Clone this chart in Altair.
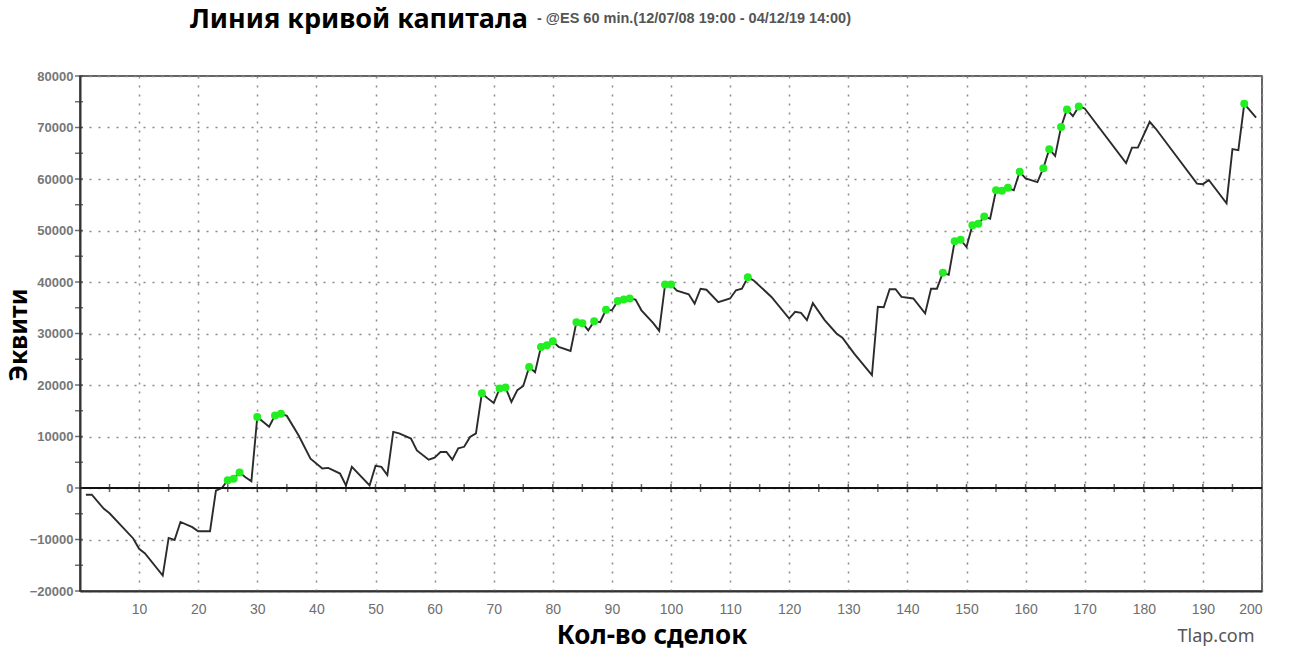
import altair as alt
import pandas as pd

# ---- data ----
trades = [1, 2, 4, 5, 9, 10, 11, 14, 15, 16, 17, 19, 20, 22, 23, 24, 25, 26, 27, 28,
          29, 30, 32, 33, 34, 35, 37, 39, 41, 42, 44, 45, 46, 49, 50, 51, 52, 53, 54, 56,
          57, 59, 60, 61, 62, 63, 64, 65, 66, 67, 68, 69, 70, 71, 72, 73, 74, 75, 76, 77,
          78, 79, 80, 81, 83, 84, 85, 86, 87, 88, 89, 90, 91, 92, 93, 94, 95, 97, 98, 99,
          100, 101, 103, 104, 105, 106, 108, 110, 111, 112, 113, 114, 117, 120, 121, 122, 123, 124, 126, 128,
          129, 131, 134, 135, 136, 137, 138, 139, 141, 143, 144, 145, 146, 147, 148, 149, 150, 151, 152, 153,
          154, 155, 156, 157, 158, 159, 160, 162, 163, 164, 165, 166, 167, 168, 169, 170, 177, 178, 179, 181,
          182, 189, 190, 191, 194, 195, 196, 197, 199]
equity = [-1300, -1300, -4000, -4900, -9800, -11800, -12700, -17000, -9700, -10100, -6600, -7600, -8400, -8400, -500, 0, 1500, 1800, 3000, 2100,
          1300, 13800, 11900, 14100, 14400, 14000, 10200, 5700, 3800, 3900, 2800, 500, 4100, 500, 4300, 4100, 2500, 10900, 10600, 9600,
          7300, 5500, 5900, 7000, 7000, 5500, 7700, 8000, 9900, 10600, 18400, 17400, 16500, 19300, 19500, 16700, 19000, 19800, 23500, 22500,
          27400, 27700, 28500, 27400, 26600, 32200, 32000, 30600, 32400, 32200, 34600, 34500, 36300, 36600, 36800, 36600, 34500, 32000, 30500, 39500,
          39500, 38300, 37600, 35800, 38700, 38500, 36100, 36800, 38400, 38700, 40900, 40300, 37100, 32900, 34200, 34000, 32600, 35900, 32600, 30000,
          29200, 26100, 21900, 35200, 35100, 38600, 38600, 37100, 36800, 33900, 38700, 38700, 41800, 41400, 47900, 48200, 46800, 51000, 51300, 52700,
          52300, 57800, 57700, 58300, 57800, 61400, 60100, 59400, 62100, 65800, 64500, 70100, 73500, 72200, 74100, 73700, 63100, 66100, 66100, 71100,
          69800, 59100, 59000, 59800, 55300, 65800, 65600, 74600, 71900]
new_highs = [25, 26, 27, 30, 33, 34, 68, 71, 72, 76, 78, 79, 80, 84, 85, 87, 89, 91, 92, 93,
             99, 100, 113, 146, 148, 149, 151, 152, 153, 155, 156, 157, 159, 163, 164, 166, 167, 169, 197]

x_ticks = list(range(10, 201, 10))
y_ticks = list(range(-20000, 80001, 10000))
y_minor = list(range(-20000, 80001, 5000))
zero_ticks = list(range(5, 200, 5))

title_main = "Линия кривой капитала"
title_sub = "- @ES 60 min.(12/07/08 19:00 - 04/12/19 14:00)"
x_title = "Кол-во сделок"
y_title = "Эквити"
watermark = "Tlap.com"

W, H = 1182, 515

df = pd.DataFrame({"trade": trades, "equity": equity})
hi = df[df["trade"].isin(new_highs)]

xs = alt.Scale(domain=[0, 200], nice=False, zero=False)
ys = alt.Scale(domain=[-20000, 80000], nice=False, zero=False)

xax = alt.Axis(values=x_ticks, grid=True, gridDash=[2, 7], gridColor="#8a8a8a", gridWidth=1.5,
               ticks=False, domainColor="#333333", domainWidth=2, labelFont="Liberation Sans",
               labelFontSize=14, labelColor="#6e6e6e", labelPadding=11, labelFlush=True, title=None)
yax = alt.Axis(values=y_ticks, format="d", grid=True, gridDash=[2, 7], gridColor="#8a8a8a", gridWidth=1.5,
               ticks=False, domainColor="#333333", domainWidth=2, labelFont="Liberation Sans",
               labelFontSize=13, labelFontWeight="bold", labelColor="#777777", labelPadding=7, title=None)

line = alt.Chart(df).mark_line(color="#2b2b2b", strokeWidth=1.9).encode(
    x=alt.X("trade:Q", scale=xs, axis=xax),
    y=alt.Y("equity:Q", scale=ys, axis=yax),
)
pts = alt.Chart(hi).mark_circle(color="#22ee22", size=64, opacity=1).encode(
    x=alt.X("trade:Q", scale=xs, axis=xax),
    y=alt.Y("equity:Q", scale=ys, axis=yax),
)
zero = alt.Chart(pd.DataFrame({"z": [0]})).mark_rule(color="#111111", strokeWidth=2).encode(
    y=alt.Y("z:Q", scale=ys, axis=yax),
)
zt = alt.Chart(pd.DataFrame({"v": zero_ticks, "z": [0] * len(zero_ticks)})).mark_tick(
    orient="vertical", size=8, thickness=1.5, color="#222222").encode(
    x=alt.X("v:Q", scale=xs, axis=xax),
    y=alt.Y("z:Q", scale=ys, axis=yax),
)
yt = alt.Chart(pd.DataFrame({"v": y_minor})).mark_tick(
    orient="horizontal", size=8, thickness=1.5, color="#333333").encode(
    y=alt.Y("v:Q", scale=ys, axis=yax),
    x=alt.value(-1),
)


def txt(s, x, y, **kw):
    return alt.Chart(pd.DataFrame({"t": [s]})).mark_text(**kw).encode(
        text="t:N", x=alt.value(x), y=alt.value(y))


t1 = txt(title_main, 110, -56, align="left", baseline="middle", font="Noto Sans",
         fontSize=27, fontWeight="bold", color="#000000")
t2 = txt(title_sub, 457, -57, align="left", baseline="middle", font="Liberation Sans",
         fontSize=14.5, fontWeight="bold", color="#555555")
tx = txt(x_title, 572, 560, align="center", baseline="middle", font="Noto Sans",
         fontSize=26, fontWeight="bold", color="#000000")
ty = txt(y_title, -61, 259, align="center", baseline="middle", font="Noto Sans",
         fontSize=25, fontWeight="bold", color="#000000", angle=270)
tw = txt(watermark, 1136, 561, align="center", baseline="middle", font="Noto Sans",
         fontSize=18, color="#555555")

chart = alt.layer(line, zero, zt, yt, pts, t1, t2, tx, ty, tw).properties(
    width=W, height=H,
    autosize=alt.AutoSizeParams(type="none"),
    padding={"left": 80, "top": 76, "right": 28, "bottom": 62},
    background="white",
).configure_view(stroke="#333333", strokeWidth=1.5)

chart.save("out.html", embed_options={"renderer": "svg", "actions": False})
